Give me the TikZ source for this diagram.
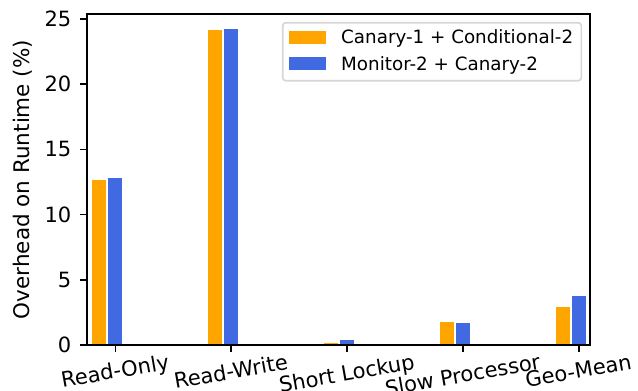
\documentclass[tikz,border=0pt]{standalone}
\usepackage{fontspec}
\setmainfont{DejaVu Sans}
\usepackage{graphicx}
\definecolor{barorange}{HTML}{FFA500}
\definecolor{barblue}{HTML}{4169E1}
\definecolor{legendedge}{HTML}{D6D6D6}
\begin{document}
\begin{tikzpicture}[x=1pt,y=-1pt,
  ticklabel/.style={font=\fontsize{21}{21}\selectfont, inner sep=0pt},
  axislabel/.style={font=\fontsize{21.5}{21.5}\selectfont, inner sep=0pt},
  legtext/.style={font=\fontsize{18.3}{18.3}\selectfont, inner sep=0pt},
  spine/.style={line width=1.6pt, line cap=rect},
  tickmark/.style={line width=1.6pt}]
\useasboundingbox (0,0) rectangle (638,391);

% bars: value axis 0 -> row 345, 13.04 rows per percent
\foreach \i/\a/\b in {0/12.65/12.8, 1/24.16/24.23, 2/0.18/0.38, 3/1.76/1.69, 4/2.91/3.76}{
  \pgfmathsetmacro\c{115.3+115.85*\i}
  \fill[barorange] ({\c-23},345) rectangle ({\c-9},{345-13.04*\a});
  \fill[barblue] ({\c-7},345) rectangle ({\c+7},{345-13.04*\b});
}

% axes frame
\draw[spine] (86.7,14) rectangle (590,345);

% x ticks and rotated category labels
\foreach \i/\t in {0/Read-Only, 1/Read-Write, 2/Short Lockup, 3/Slow Processor, 4/Geo-Mean}{
  \pgfmathsetmacro\c{115.3+115.85*\i}
  \draw[tickmark] (\c,345) -- (\c,352);
  \node[ticklabel, anchor=north] (xl\i) at (\c,353) {\rotatebox{10}{\vphantom{lp}\t}};
}

% y ticks and labels
\foreach \v in {0,5,10,15,20,25}{
  \draw[tickmark] (86.7,{345-13.04*\v}) -- (79.5,{345-13.04*\v});
  \node[ticklabel, anchor=east] (yl\v) at (71.5,{345-13.04*\v}) {\v};
}

\node[axislabel, rotate=90, anchor=base] (ylab) at (30,179.5) {Overhead on Runtime (\%)};

% legend
\draw[legendedge, fill=white, line width=1.6pt, rounded corners=3pt] (282.7,22.7) rectangle (581.3,80.7);
\fill[barorange] (289,30.7) rectangle (325.7,44);
\fill[barblue] (289,57.3) rectangle (325.7,70);
\node[legtext, anchor=base west] (leg1) at (341,43.7) {Canary-1 + Conditional-2};
\node[legtext, anchor=base west] (leg2) at (341,70) {Monitor-2 + Canary-2};
\end{tikzpicture}
\end{document}
